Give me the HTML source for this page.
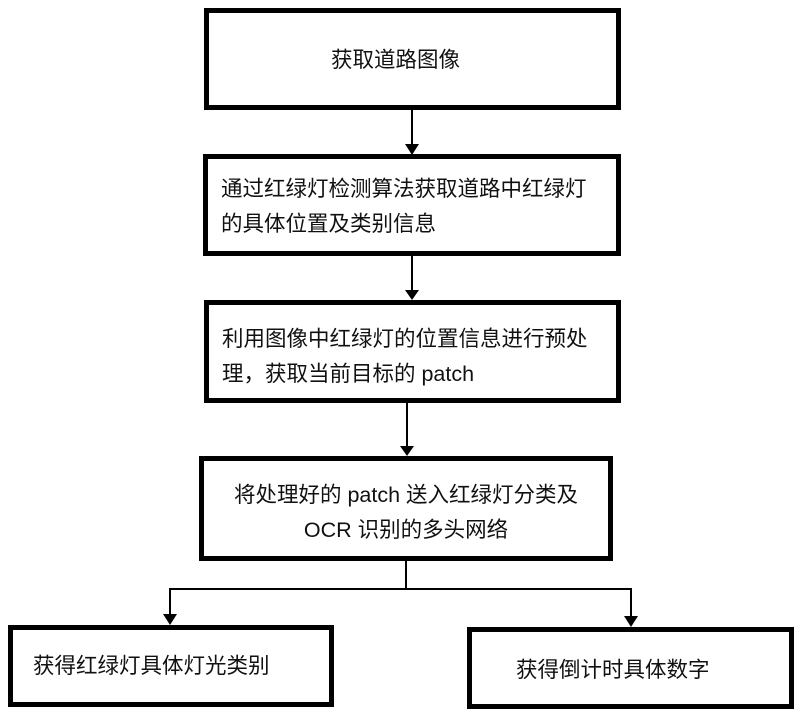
<!DOCTYPE html>
<html><head><meta charset="utf-8"><style>
body{margin:0;width:800px;height:717px;background:#fff;position:relative;overflow:hidden;font-family:"Liberation Sans","Noto Sans CJK SC",sans-serif;color:#111}
.b{position:absolute;border:5px solid #000;box-sizing:border-box;font-size:21.5px;line-height:35px}
.t{position:absolute;white-space:nowrap}
</style></head><body>
<div class="b" style="left:204px;top:8px;width:417px;height:102px"><div class="t" style="left:122px;top:30px">获取道路图像</div></div>
<div class="b" style="left:203px;top:154px;width:418px;height:102px"><div class="t" style="left:13px;top:13px">通过红绿灯检测算法获取道路中红绿灯<br>的具体位置及类别信息</div></div>
<div class="b" style="left:204px;top:300px;width:417px;height:103px"><div class="t" style="left:13px;top:17px">利用图像中红绿灯的位置信息进行预处<br>理，获取当前目标的 patch</div></div>
<div class="b" style="left:199px;top:456px;width:414px;height:105px"><div class="t" style="left:0;width:404px;text-align:center;top:17px">将处理好的 patch 送入红绿灯分类及<br>OCR 识别的多头网络</div></div>
<div class="b" style="left:8px;top:625px;width:326px;height:82px"><div class="t" style="left:20px;top:19px">获得红绿灯具体灯光类别</div></div>
<div class="b" style="left:467px;top:627px;width:327px;height:82px"><div class="t" style="left:44px;top:21px">获得倒计时具体数字</div></div>
<svg width="800" height="717" style="position:absolute;left:0;top:0">
<g stroke="#000" stroke-width="2" fill="none">
<line x1="412" y1="110" x2="412" y2="146"/>
<line x1="412" y1="256" x2="412" y2="292"/>
<line x1="407" y1="403" x2="407" y2="448"/>
<polyline points="406,561 406,589 170,589 170,616"/>
<polyline points="406,589 631,589 631,618"/>
</g>
<g fill="#000">
<polygon points="405,144 419,144 412,155"/>
<polygon points="405,290 419,290 412,300"/>
<polygon points="400,446 414,446 407,456"/>
<polygon points="163,614 177,614 170,625"/>
<polygon points="624,616 638,616 631,627"/>
</g></svg>
</body></html>
